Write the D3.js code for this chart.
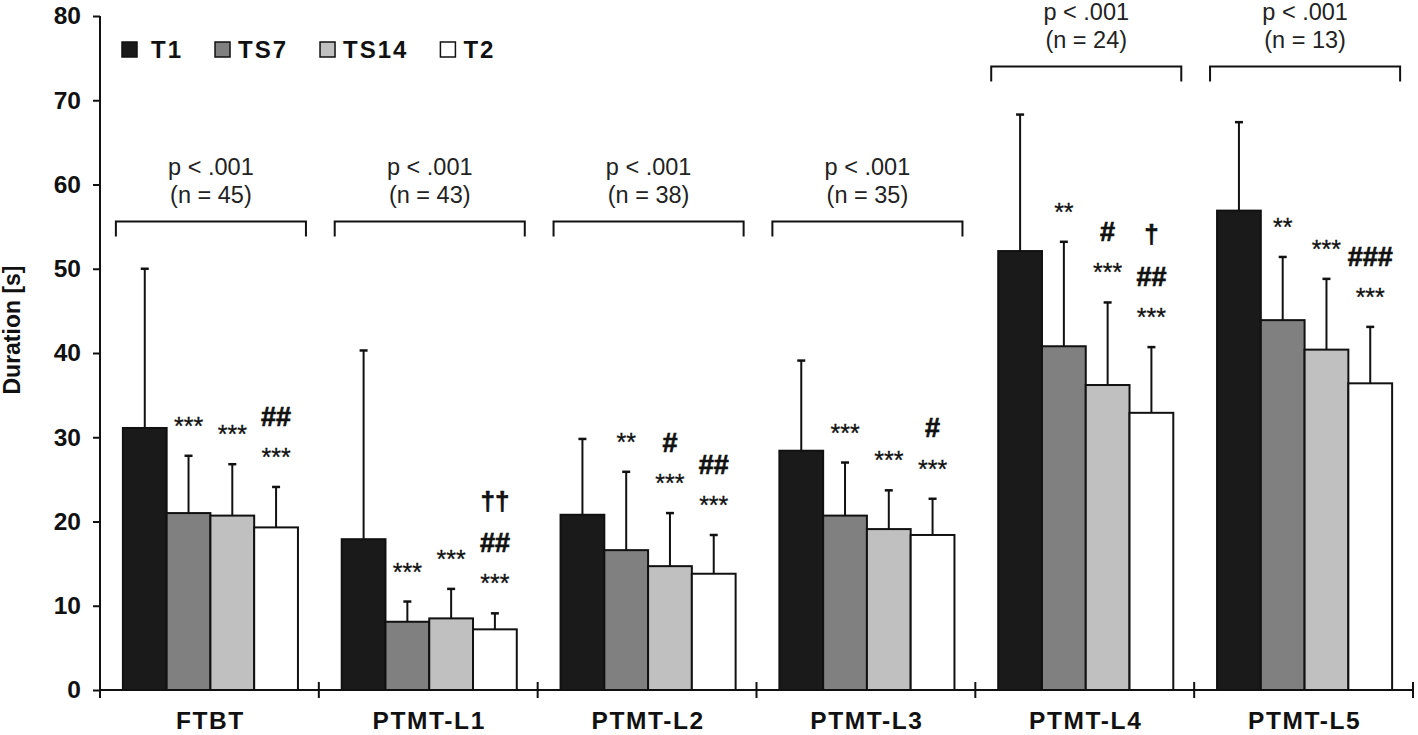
<!DOCTYPE html>
<html>
<head>
<meta charset="utf-8">
<script src="https://cdn.jsdelivr.net/npm/d3@7"></script>
<style>
  html, body { margin: 0; padding: 0; background: #fff; }
  svg { display: block; font-family: "Liberation Sans", Arial, sans-serif; }
</style>
</head>
<body>
<svg id="chart" width="1418" height="735"></svg>
<script>
// ---------------- DATA ----------------
const categories = ["FTBT", "PTMT-L1", "PTMT-L2", "PTMT-L3", "PTMT-L4", "PTMT-L5"];
const seriesNames = ["T1", "TS7", "TS14", "T2"];
const T1   = [31.1, 17.9, 20.8, 28.4, 52.1, 56.9];
const TS7  = [21.0,  8.1, 16.6, 20.7, 40.8, 43.9];
const TS14 = [20.7,  8.5, 14.7, 19.1, 36.2, 40.4];
const T2   = [19.3,  7.2, 13.8, 18.4, 32.9, 36.4];
const T1_sd   = [18.9, 22.4, 9.0, 10.7, 16.2, 10.5];
const TS7_sd  = [ 6.8,  2.4, 9.3,  6.3, 12.4,  7.5];
const TS14_sd = [ 6.1,  3.5, 6.3,  4.6,  9.8,  8.4];
const T2_sd   = [ 4.8,  1.9, 4.6,  4.3,  7.8,  6.7];
const yTicks = [0, 10, 20, 30, 40, 50, 60, 70, 80];
const pLabels = ["p < .001", "p < .001", "p < .001", "p < .001", "p < .001", "p < .001"];
const nLabels = [45, 43, 38, 35, 24, 13];
const bracketLevel = [55.6, 55.6, 55.6, 55.6, 74, 74];
// significance marks per category, per series (bottom to top)
const sigMarks = [
  [[], ["***"], ["***"], ["***", "##"]],
  [[], ["***"], ["***"], ["***", "##", "††"]],
  [[], ["**"], ["***", "#"], ["***", "##"]],
  [[], ["***"], ["***"], ["***", "#"]],
  [[], ["**"], ["***", "#"], ["***", "##", "†"]],
  [[], ["**"], ["***"], ["***", "###"]]
];
const yTitle = "Duration [s]";

// ---------------- LAYOUT ----------------
const colors = ["#1a1a1a", "#808080", "#c0c0c0", "#ffffff"];
const svg = d3.select("#chart");
const axisX0 = 100, axisX1 = 1413, yTop = 16, yBottom = 690;

const means = [T1, TS7, TS14, T2];
const sds = [T1_sd, TS7_sd, TS14_sd, T2_sd];

const x = d3.scaleBand().domain(categories).range([axisX0, axisX1]).paddingInner(0).paddingOuter(0);
const xs = d3.scaleBand().domain(seriesNames).range([0, x.bandwidth()]).paddingInner(0).paddingOuter(0.5);
const y = d3.scaleLinear().domain([0, 80]).range([yBottom, yTop]);

const rows = [];
categories.forEach((c, ci) => {
  seriesNames.forEach((s, si) => {
    rows.push({ c, ci, s, si, v: means[si][ci], sd: sds[si][ci], marks: sigMarks[ci][si] });
  });
});

// Bars
const g = svg.append("g");
g.selectAll("rect.bar").data(rows).enter().append("rect")
  .attr("class", "bar")
  .attr("x", d => x(d.c) + xs(d.s) + 1)
  .attr("y", d => y(d.v))
  .attr("width", xs.bandwidth())
  .attr("height", d => y(0) - y(d.v))
  .attr("fill", d => colors[d.si])
  .attr("stroke", "#111")
  .attr("stroke-width", 2);

// Error bars (upper only)
const cx = d => x(d.c) + xs(d.s) + 1 + xs.bandwidth() / 2;
g.selectAll("line.err").data(rows).enter().append("line")
  .attr("x1", cx).attr("x2", cx)
  .attr("y1", d => y(d.v)).attr("y2", d => y(d.v + d.sd))
  .attr("stroke", "#111").attr("stroke-width", 2);
g.selectAll("line.cap").data(rows).enter().append("line")
  .attr("x1", d => cx(d) - 4).attr("x2", d => cx(d) + 4)
  .attr("y1", d => y(d.v + d.sd)).attr("y2", d => y(d.v + d.sd))
  .attr("stroke", "#111").attr("stroke-width", 2.5);

// Significance marks
function markStyle(t) {
  if (t.includes("*")) return { size: 25, weight: "normal", off: 0.58, sw: 0.3 };
  if (t.includes("#")) return { size: 27, weight: "bold", off: 0.36, sw: 0.7 };
  return { size: 26, weight: "bold", off: 0.28, sw: 0.6 };
}
rows.forEach(d => {
  let center = y(d.v + d.sd);
  d.marks.forEach((t, i) => {
    const st = markStyle(t);
    center -= (t.includes("†") ? 40 : 35.5);
    g.append("text")
      .attr("x", cx(d))
      .attr("y", center + st.off * st.size)
      .attr("text-anchor", "middle")
      .attr("font-size", st.size)
      .attr("font-weight", st.weight)
      .attr("fill", "#111")
      .attr("stroke", "#111").attr("stroke-width", st.sw)
      .text(t);
  });
});

// Brackets + p / n labels
categories.forEach((c, ci) => {
  const bx0 = x(c) + xs(seriesNames[0]) - 6;
  const bx1 = x(c) + xs(seriesNames[3]) + xs.bandwidth() + 9;
  const by = y(bracketLevel[ci]);
  g.append("path")
    .attr("d", `M${bx0},${by + 15}V${by}H${bx1}V${by + 15}`)
    .attr("fill", "none").attr("stroke", "#111").attr("stroke-width", 2);
  const mx = (bx0 + bx1) / 2;
  g.append("text").attr("x", mx).attr("y", by - 47)
    .attr("text-anchor", "middle").attr("font-size", 23.5).attr("fill", "#222")
    .text(pLabels[ci]);
  g.append("text").attr("x", mx).attr("y", by - 19)
    .attr("text-anchor", "middle").attr("font-size", 23.5).attr("fill", "#222")
    .text(`(n = ${nLabels[ci]})`);
});

// Y axis
const yAxis = d3.axisLeft(y).tickValues(yTicks).tickSize(7).tickSizeOuter(0).tickPadding(12);
const ya = svg.append("g").attr("transform", `translate(${axisX0},0)`).call(yAxis);
ya.select(".domain").remove();
ya.selectAll(".tick line").attr("stroke", "#111").attr("stroke-width", 2);
ya.selectAll(".tick text").attr("font-size", 24.5).attr("font-weight", "bold")
  .attr("fill", "#111").attr("font-family", "Liberation Sans, Arial, sans-serif");
svg.append("line").attr("x1", axisX0).attr("x2", axisX0).attr("y1", yTop).attr("y2", yBottom + 8)
  .attr("stroke", "#111").attr("stroke-width", 2);

// X axis
svg.append("line").attr("x1", axisX0).attr("x2", axisX1).attr("y1", yBottom).attr("y2", yBottom)
  .attr("stroke", "#111").attr("stroke-width", 2);
svg.selectAll("line.xtick").data(categories).enter().append("line")
  .attr("x1", c => x(c) + x.bandwidth()).attr("x2", c => x(c) + x.bandwidth())
  .attr("y1", yBottom - 8).attr("y2", yBottom + 8)
  .attr("stroke", "#111").attr("stroke-width", 2);
svg.selectAll("text.xlab").data(categories).enter().append("text")
  .attr("x", c => x(c) + x.bandwidth() / 2 + 1)
  .attr("y", 729)
  .attr("text-anchor", "middle")
  .attr("font-size", 24.5).attr("font-weight", "bold").attr("letter-spacing", 1.6)
  .attr("fill", "#111")
  .text(c => c);

// Y title
svg.append("text")
  .attr("transform", `translate(20,330) rotate(-90)`)
  .attr("text-anchor", "middle")
  .attr("font-size", 23).attr("font-weight", "bold").attr("fill", "#111")
  .text(yTitle);

// Legend
let lx = 122;
const ly = 42;
seriesNames.forEach((s, si) => {
  svg.append("rect").attr("x", lx).attr("y", ly).attr("width", 15).attr("height", 15)
    .attr("fill", colors[si]).attr("stroke", "#111").attr("stroke-width", 1.5);
  const gap = si === 0 ? 14 : 8;
  const t = svg.append("text").attr("x", lx + 15 + gap).attr("y", ly + 16)
    .attr("font-size", 24).attr("font-weight", "bold").attr("letter-spacing", 2)
    .attr("fill", "#111").text(s);
  const w = t.node().getComputedTextLength();
  lx = lx + 15 + gap + w + 32;
});
</script>
</body>
</html>
